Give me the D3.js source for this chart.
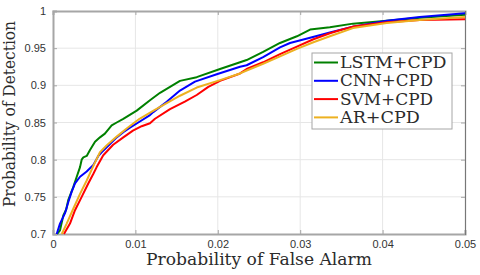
<!DOCTYPE html>
<html>
<head>
<meta charset="utf-8">
<script src="https://cdn.jsdelivr.net/npm/d3@7"></script>
<style>
  body { margin: 0; background: #fff; }
  svg { display: block; }
  .tick text { font-family: "Liberation Sans", Arial, sans-serif; font-size: 11px; fill: #333; }
  .lbl { font-family: "DejaVu Serif", serif; fill: #2b2b2b; }
</style>
</head>
<body>
<div id="chart"></div>
<script>
// series names, in legend order
var seriesNames = ["LSTM+CPD", "CNN+CPD", "SVM+CPD", "AR+CPD"];
var seriesColors = ["#008000", "#0000ff", "#ff0000", "#edb120"];

// [false alarm, detection]
var lstm = [
    [0.0005, 0.700], [0.00085, 0.705], [0.00125, 0.725], [0.0016, 0.733], [0.00186, 0.746],
    [0.00246, 0.763], [0.00288, 0.777], [0.00328, 0.790], [0.00348, 0.800], [0.00368, 0.803],
    [0.00409, 0.805], [0.00449, 0.813], [0.0051, 0.824], [0.0057, 0.830], [0.0063, 0.835],
    [0.00712, 0.846], [0.00773, 0.850], [0.00853, 0.855], [0.01016, 0.866], [0.01177, 0.880],
    [0.01299, 0.890], [0.01541, 0.906], [0.01744, 0.911], [0.02027, 0.922], [0.0227, 0.931],
    [0.0235, 0.934], [0.0255, 0.945], [0.02755, 0.957], [0.0296, 0.966], [0.0312, 0.975],
    [0.0336, 0.978], [0.0364, 0.983], [0.0405, 0.987], [0.0445, 0.991], [0.05, 0.995]
];
var cnn = [
    [0.00045, 0.700], [0.00085, 0.714], [0.00146, 0.728], [0.00186, 0.743], [0.00227, 0.757],
    [0.00267, 0.768], [0.00328, 0.777], [0.00409, 0.784], [0.0049, 0.793], [0.0055, 0.805],
    [0.0059, 0.810], [0.00692, 0.821], [0.00773, 0.830], [0.00853, 0.837], [0.00934, 0.843],
    [0.01035, 0.850], [0.01177, 0.860], [0.01217, 0.864], [0.0138, 0.878], [0.01541, 0.893],
    [0.01723, 0.905], [0.01987, 0.915], [0.0227, 0.925], [0.0235, 0.927], [0.0255, 0.938],
    [0.02755, 0.951], [0.02876, 0.957], [0.0312, 0.964], [0.0336, 0.971], [0.0364, 0.979],
    [0.0405, 0.987], [0.0445, 0.992], [0.05, 0.997]
];
var svm = [
    [0.00133, 0.700], [0.00206, 0.714], [0.00267, 0.732], [0.00348, 0.750], [0.00428, 0.768],
    [0.0049, 0.781], [0.0053, 0.790], [0.0061, 0.806], [0.0073, 0.820], [0.00853, 0.830],
    [0.0097, 0.839], [0.01076, 0.845], [0.01177, 0.849], [0.01238, 0.855], [0.0142, 0.868],
    [0.016, 0.878], [0.01744, 0.887], [0.01885, 0.898], [0.02027, 0.906], [0.0227, 0.916],
    [0.0235, 0.922], [0.0255, 0.931], [0.02755, 0.942], [0.0296, 0.952], [0.0316, 0.962],
    [0.0336, 0.970], [0.0348, 0.974], [0.0364, 0.979], [0.0405, 0.985], [0.0445, 0.988],
    [0.05, 0.989]
];
var ar = [
    [0.00106, 0.700], [0.00166, 0.714], [0.00246, 0.734], [0.00328, 0.754], [0.00409, 0.772],
    [0.0050, 0.794], [0.0057, 0.810], [0.0065, 0.819], [0.00773, 0.831], [0.00894, 0.842],
    [0.0105, 0.855], [0.0122, 0.866], [0.0138, 0.876], [0.01541, 0.886], [0.01744, 0.897],
    [0.02027, 0.907], [0.0227, 0.916], [0.0235, 0.920], [0.0255, 0.929], [0.02755, 0.939],
    [0.0296, 0.949], [0.0316, 0.958], [0.0336, 0.966], [0.0364, 0.977], [0.0405, 0.984],
    [0.0445, 0.988], [0.05, 0.992]
];
var allSeries = [lstm, cnn, svm, ar];

var xTicks = [0, 0.01, 0.02, 0.03, 0.04, 0.05];
var yTicks = [0.7, 0.75, 0.8, 0.85, 0.9, 0.95, 1];

var width = 480, height = 275;
var plotLeft = 53, plotRight = 465, plotTop = 11, plotBottom = 234;

var svg = d3.select("#chart").append("svg")
    .attr("width", width)
    .attr("height", height);

var x = d3.scaleLinear().domain([0, 0.05]).range([plotLeft, plotRight]);
var y = d3.scaleLinear().domain([0.7, 1]).range([plotBottom, plotTop]);

// grid
svg.append("g").selectAll("line")
    .data(xTicks.slice(1, -1)).enter().append("line")
    .attr("x1", d => x(d)).attr("x2", d => x(d))
    .attr("y1", plotTop).attr("y2", plotBottom)
    .attr("stroke", "#e6e6e6").attr("stroke-width", 1);
svg.append("g").selectAll("line")
    .data(yTicks.slice(1, -1)).enter().append("line")
    .attr("y1", d => y(d)).attr("y2", d => y(d))
    .attr("x1", plotLeft).attr("x2", plotRight)
    .attr("stroke", "#e6e6e6").attr("stroke-width", 1);

// axes with labels
svg.append("g")
    .attr("transform", `translate(0,${plotBottom})`)
    .call(d3.axisBottom(x).tickValues(xTicks).tickSize(-4).tickPadding(6)
        .tickFormat(d => d === 0 ? "0" : d3.format(".2f")(d)));
svg.append("g")
    .attr("transform", `translate(${plotLeft},0)`)
    .call(d3.axisLeft(y).tickValues(yTicks).tickSize(-4).tickPadding(7)
        .tickFormat(d => d === 1 ? "1" : d3.format("")(d)));
// mirror ticks, no labels
svg.append("g")
    .attr("transform", `translate(0,${plotTop})`)
    .call(d3.axisTop(x).tickValues(xTicks).tickSize(-4).tickFormat(""));
svg.append("g")
    .attr("class", "right-axis")
    .attr("transform", `translate(${plotRight},0)`)
    .call(d3.axisRight(y).tickValues(yTicks).tickSize(-4).tickFormat(""));

svg.selectAll(".domain").attr("stroke", "#a6a6a6").attr("stroke-width", 2);
svg.select(".right-axis .domain").attr("stroke", "#777").attr("stroke-width", 1.2);
svg.selectAll(".tick line").attr("stroke", "#a6a6a6");

// curves
var line = d3.line().x(d => x(d[0])).y(d => y(d[1]));
svg.append("g").selectAll("path")
    .data(allSeries).enter().append("path")
    .attr("d", line)
    .attr("fill", "none")
    .attr("stroke", (d, i) => seriesColors[i])
    .attr("stroke-width", 2)
    .attr("stroke-linejoin", "round");

// axis titles
svg.append("text").attr("class", "lbl")
    .attr("x", (plotLeft + plotRight) / 2).attr("y", 265)
    .attr("text-anchor", "middle").attr("font-size", 16)
    .attr("textLength", 226).attr("lengthAdjust", "spacingAndGlyphs")
    .text("Probability of False Alarm");
svg.append("text").attr("class", "lbl")
    .attr("transform", "translate(15,114) rotate(-90)")
    .attr("text-anchor", "middle").attr("font-size", 16)
    .attr("textLength", 186).attr("lengthAdjust", "spacingAndGlyphs")
    .text("Probability of Detection");

// legend
var legend = svg.append("g").attr("transform", "translate(312,53)");
legend.append("rect")
    .attr("width", 140).attr("height", 76)
    .attr("fill", "#fff").attr("stroke", "#a6a6a6").attr("stroke-width", 1);
var items = legend.selectAll("g.item")
    .data(seriesNames).enter().append("g")
    .attr("class", "item")
    .attr("transform", (d, i) => `translate(0,${9.5 + i * 18.3})`);
items.append("line")
    .attr("x1", 2).attr("x2", 26)
    .attr("stroke", (d, i) => seriesColors[i]).attr("stroke-width", 2);
items.append("text").attr("class", "lbl")
    .attr("x", 28).attr("y", 5.5)
    .attr("font-size", 16)
    .attr("textLength", d => d.length * 13.3)
    .attr("lengthAdjust", "spacingAndGlyphs")
    .text(d => d);
</script>
</body>
</html>
